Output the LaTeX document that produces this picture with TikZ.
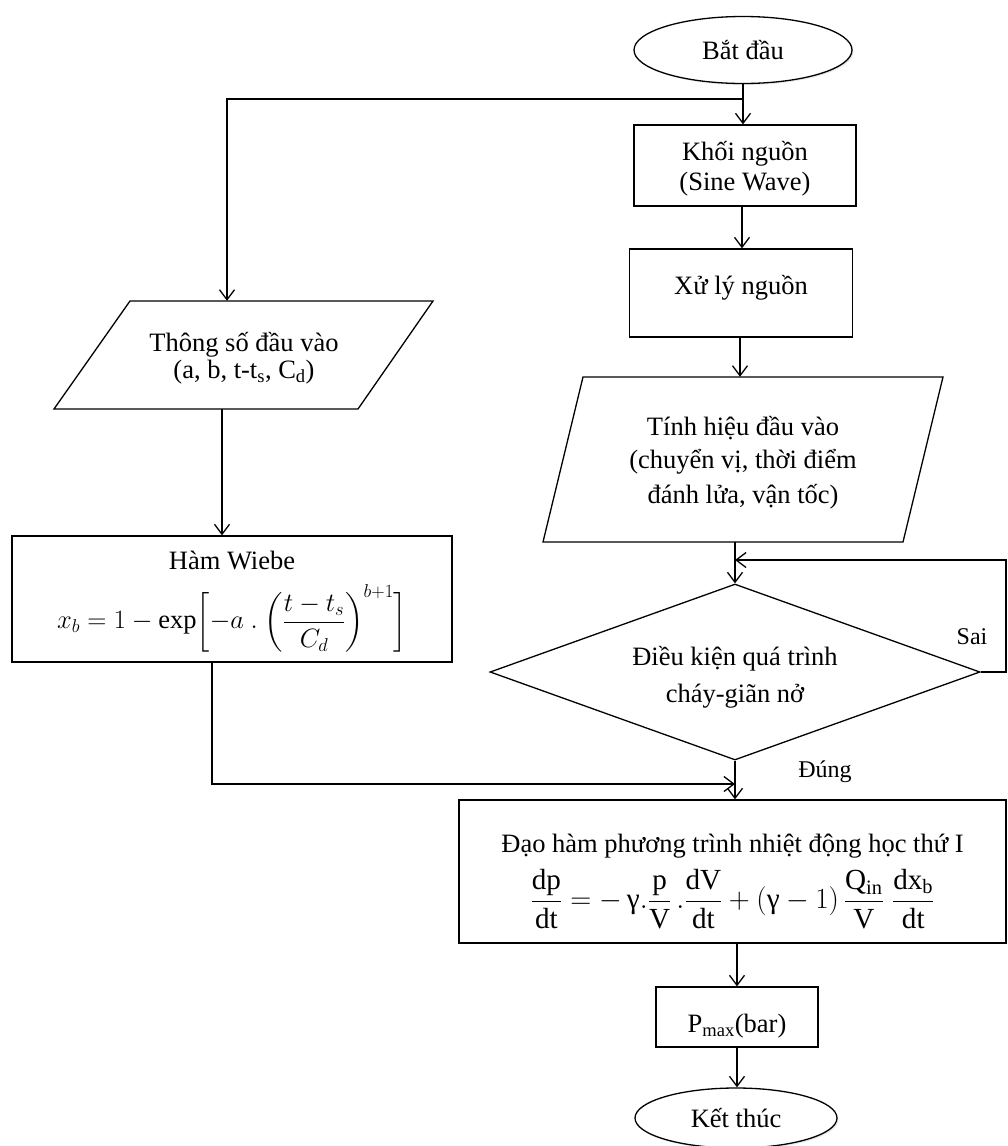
\RequirePackage{fix-cm}
\documentclass[tikz,border=0pt]{standalone}
\usepackage{amsmath}
\usepackage{fontspec}
\setmainfont{Liberation Serif}
\usetikzlibrary{arrows.meta,shapes.geometric,shadows,calc}
\newcommand{\shiftbox}[2]{\raisebox{#1}[\height][\depth]{#2}}
\begin{document}
\begin{tikzpicture}[x=1pt,y=-1pt,
  every node/.style={font=\fontsize{26.5}{33}\selectfont, align=center, inner sep=0pt},
  ln/.style={line width=1.3pt, draw=black},
  arr/.style={line width=1.3pt, -{Straight Barb[length=10pt,width=15pt]}},
  box/.style={draw, rectangle, line width=1.3pt},
  term/.style={draw, ellipse, line width=1.3pt, fill=white,
    drop shadow={shadow xshift=1.5pt, shadow yshift=-1.5pt, opacity=0.18}},
  lbl/.style={font=\fontsize{24}{28}\selectfont}
]
\useasboundingbox (0,0) rectangle (1008,1146);

% nodes
\node[term, minimum width=218pt, minimum height=67pt] (start) at (743,50) {Bắt đầu};
\node[box, minimum width=222pt, minimum height=81pt] (src) at (745,165.5) {\shiftbox{-3pt}{\shortstack{Khối nguồn\\[3pt](Sine Wave)}}};
\node[box, minimum width=223pt, minimum height=88pt] (proc) at (741,293) {\shiftbox{5pt}{Xử lý nguồn}};

\node[minimum width=304pt, minimum height=108pt] (par1) at (244,355)
  {\shiftbox{-3pt}{\shortstack{Thông số đầu vào\\[0pt](a, b, t-t\textsubscript{s}, C\textsubscript{d})}}};
\draw[ln] (130,301) -- (433,301) -- (358,409) -- (54,409) -- cycle;

\node[minimum width=320pt, minimum height=165pt] (par2) at (743,459.5)
  {\shiftbox{-3pt}{\shortstack{Tính hiệu đầu vào\\[7pt](chuyển vị, thời điểm\\[7pt]đánh lửa, vận tốc)}}};
\draw[ln] (583,377) -- (943,377) -- (903,542) -- (543,542) -- cycle;

\node[draw, diamond, aspect=2.78, minimum width=490pt, minimum height=176pt, line width=1.3pt] (dia) at (735,672)
  {\shiftbox{-5pt}{\shortstack{Điều kiện quá trình\\[10pt]cháy-giãn nở}}};

\node[box, minimum width=440pt, minimum height=126pt] (wiebe) at (232,599)
  {\shiftbox{-1pt}{\begin{tabular}{@{}c@{}}Hàm Wiebe\\[6pt]
   $x_b = 1 - \exp\biggl[-a\ .\ \biggl(\dfrac{t-t_s}{C_d}\biggr)^{b+1}\biggr]$\end{tabular}}};

\node[box, minimum width=547pt, minimum height=143pt] (deriv) at (732.5,871.5)
  {\shiftbox{-8pt}{\begin{tabular}{@{}c@{}}Đạo hàm phương trình nhiệt động học thứ I\\[6pt]
   \scalebox{1.1}{$\dfrac{\text{dp}}{\text{dt}} = -\,\text{γ}.\dfrac{\text{p}}{\text{V}}\,.\dfrac{\text{dV}}{\text{dt}} + (\text{γ}-1)\,\dfrac{\text{Q}_{\text{in}}}{\text{V}}\;\dfrac{\text{dx}_{\text{b}}}{\text{dt}}$}\end{tabular}}};

\node[box, minimum width=162pt, minimum height=60pt] (pmax) at (737,1017)
  {\shiftbox{-9pt}{P\textsubscript{max}(bar)}};

\node[term, minimum width=202pt, minimum height=60pt] (end) at (736,1118) {Kết thúc};

\node[lbl] (sai) at (972,637) {Sai};
\node[lbl] (dung) at (825,772) {Đúng};

% helper coordinates
\coordinate (j1) at (743,99);
\coordinate (j2) at (227,99);
\coordinate (j3) at (735,560);
\coordinate (j4) at (1006,672);
\coordinate (j5) at (1006,560);
\coordinate (j6) at (212,784);
\coordinate (j7) at (735,784);

% connectors
\draw[arr] (start.south) -- (start.south |- src.north);
\draw[arr] (j1) -- (j2) -- (j2 |- par1.north);
\draw[arr] (src.south -| 742,0) -- (742,0 |- proc.north);
\draw[arr] (proc.south -| 740,0) -- (740,0 |- par2.north);
\draw[arr] (par2.south -| dia.north) -- (dia.north);
\draw[arr] (dia.east) -- (j4) -- (j5) -- (j3);
\draw[arr] (222,0 |- par1.south) -- (222,0 |- wiebe.north);
\draw[arr] (wiebe.south -| j6) -- (j6) -- (j7);
\draw[arr] (dia.south) -- (dia.south |- deriv.north);
\draw[arr] (deriv.south -| pmax.north) -- (pmax.north);
\draw[arr] (pmax.south) -- (pmax.south |- end.north);
\end{tikzpicture}
\end{document}
